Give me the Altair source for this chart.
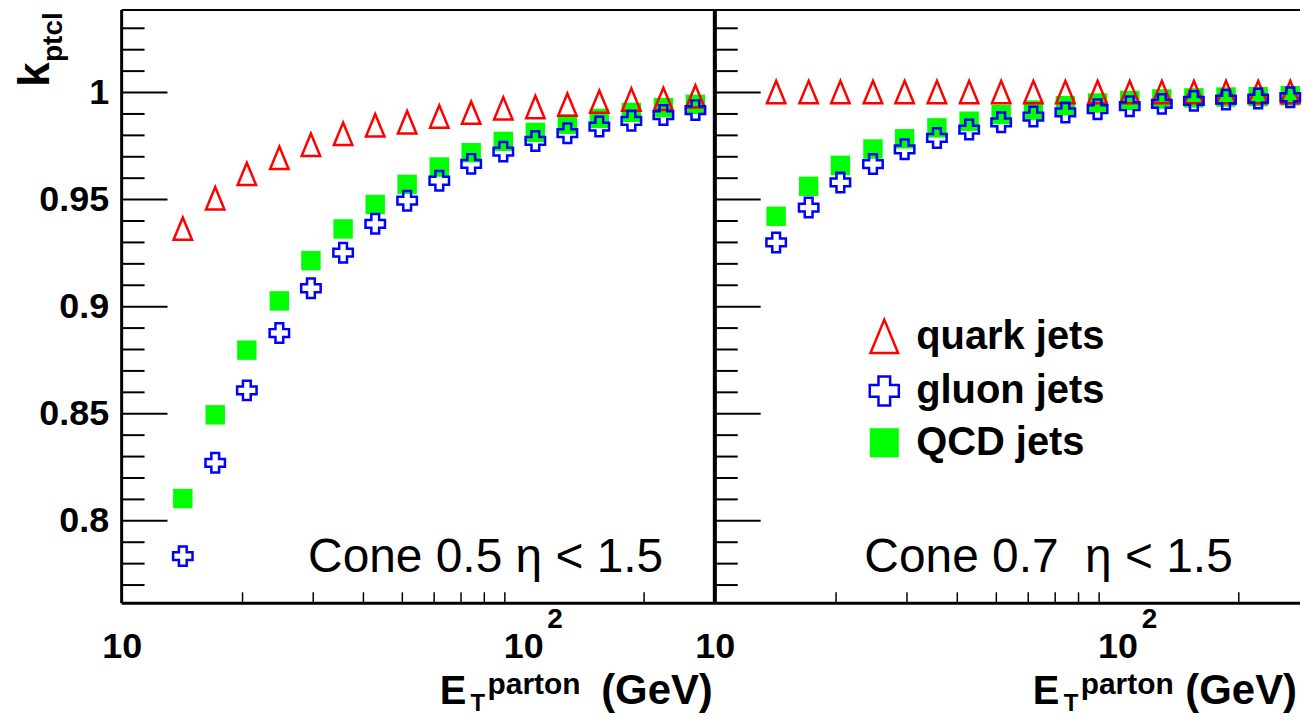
import altair as alt
import pandas as pd

# ---------------- data ----------------
x_et = [14.2, 17.1, 20.5, 24.7, 29.6, 35.6, 42.8, 51.4, 61.8, 74.2,
        89.2, 107.2, 128.8, 154.7, 185.9, 223.4, 268.4]

series_names = ["quark jets", "gluon jets", "QCD jets"]

quark_05 = [0.9362, 0.9504, 0.9618, 0.9693, 0.9754, 0.9805, 0.9845, 0.9859, 0.9886,
            0.9904, 0.9924, 0.9930, 0.9941, 0.9955, 0.9965, 0.9968, 0.9980]
gluon_05 = [0.7835, 0.8271, 0.8609, 0.8877, 0.9086, 0.9252, 0.9387, 0.9495, 0.9588,
            0.9667, 0.9724, 0.9774, 0.9810, 0.9841, 0.9868, 0.9895, 0.9918]
qcd_05 = [0.8104, 0.8495, 0.8797, 0.9027, 0.9215, 0.9363, 0.9477, 0.9571, 0.9652,
          0.9719, 0.9772, 0.9814, 0.9852, 0.9879, 0.9907, 0.9930, 0.9945]

quark_07 = [1.0000, 1.0000, 1.0000, 1.0000, 1.0000, 1.0000, 1.0000, 1.0000, 1.0000,
            1.0000, 1.0000, 1.0000, 1.0000, 1.0000, 1.0000, 1.0000, 1.0000]
gluon_07 = [0.9300, 0.9463, 0.9580, 0.9666, 0.9735, 0.9788, 0.9827, 0.9861, 0.9888,
            0.9907, 0.9922, 0.9936, 0.9947, 0.9961, 0.9967, 0.9972, 0.9978]
qcd_07 = [0.9422, 0.9562, 0.9660, 0.9736, 0.9784, 0.9835, 0.9866, 0.9897, 0.9918,
          0.9939, 0.9951, 0.9963, 0.9970, 0.9975, 0.9979, 0.9981, 0.9985]

y_major = [0.8, 0.85, 0.9, 0.95, 1.0]
y_minor = [0.77, 0.78, 0.79, 0.81, 0.82, 0.83, 0.84, 0.86, 0.87, 0.88, 0.89,
           0.91, 0.92, 0.93, 0.94, 0.96, 0.97, 0.98, 0.99, 1.01, 1.02, 1.03]
x_label_values = [10, 100]
x_minor = [20, 30, 40, 50, 60, 70, 80, 90, 200]
x_sup_values = [100]
x_sup_text = ["2"]

cone_labels = ["Cone 0.5 \u03b7 < 1.5", "Cone 0.7 \u00a0\u03b7 < 1.5"]
y_title = ["k", "ptcl"]
x_title = ["E", "T", "parton", "(GeV)"]

# ---------------- styling ----------------
FONT = "Liberation Sans"
H = 595
W_L = 595
W_R = 587
Y_DOM = [0.7615, 1.0385]
TRI = "M0,-1.2L-0.95,1.1L0.95,1.1Z"

one = pd.DataFrame({"a": [0]})


def points_df(quark, gluon, qcd):
    rows = []
    for name, vals in [("QCD jets", qcd), ("quark jets", quark), ("gluon jets", gluon)]:
        for xv, yv in zip(x_et, vals):
            rows.append({"et": xv, "k": yv, "series": name})
    return pd.DataFrame(rows)


legend = alt.Legend(orient="none", legendX=745, legendY=308, title=None,
                    labelFont=FONT, labelFontSize=40, labelFontWeight="bold",
                    labelColor="black", labelLimit=0, symbolSize=850,
                    symbolStrokeWidth=2.5, symbolOpacity=1, labelOffset=12,
                    rowPadding=12, padding=0)


def txt(text, x, y, size, weight="bold", angle=0, align="left"):
    return alt.Chart(one).mark_text(
        text=text, font=FONT, fontSize=size, fontWeight=weight, angle=angle,
        align=align, baseline="alphabetic", color="black"
    ).encode(x=alt.value(x), y=alt.value(y))


def bar(x1, x2, y1, y2):
    # frame line drawn as a filled thin rectangle
    return alt.Chart(one).mark_rect(color="black", strokeWidth=0).encode(
        x=alt.value(x1), x2=alt.value(x2), y=alt.value(y1), y2=alt.value(y2))


def panel(df, width, xmax, cone, show_y, ge_x, right_frame):
    xs = alt.Scale(type="log", domain=[10, xmax], nice=False)
    ys = alt.Scale(domain=Y_DOM, nice=False, zero=False)
    xaxis = alt.Axis(values=x_label_values, labelExpr="'10'", ticks=False, domain=False,
                     grid=False, labelFont=FONT, labelFontWeight="bold", labelFontSize=36,
                     labelPadding=26, labelFlush=False, labelOverlap=False, title=None,
                     labelColor="black")
    if show_y:
        yaxis = alt.Axis(values=y_major, format="~g", ticks=False, domain=False, grid=False,
                         labelFont=FONT, labelFontWeight="bold", labelFontSize=36,
                         labelPadding=13, labelColor="black", title=None)
    else:
        yaxis = None

    pts = alt.Chart(df).mark_point(opacity=1, strokeWidth=2.5, size=380).encode(
        x=alt.X("et:Q", scale=xs, axis=xaxis),
        y=alt.Y("k:Q", scale=ys, axis=yaxis),
        shape=alt.Shape("series:N", scale=alt.Scale(domain=series_names,
                                                     range=[TRI, "cross", "square"]),
                        legend=legend),
        fill=alt.Fill("series:N", scale=alt.Scale(domain=series_names,
                                                   range=["transparent", "transparent", "#00ff00"]),
                      legend=legend),
        stroke=alt.Stroke("series:N", scale=alt.Scale(domain=series_names,
                                                       range=["#ff0000", "#0000ff", "transparent"]),
                          legend=legend),
    )

    ymaj = alt.Chart(pd.DataFrame({"k": y_major})).mark_rule(color="black", strokeWidth=2).encode(
        y=alt.Y("k:Q", scale=ys, axis=yaxis), x=alt.value(0), x2=alt.value(46))
    ymin = alt.Chart(pd.DataFrame({"k": y_minor})).mark_rule(color="black", strokeWidth=2).encode(
        y=alt.Y("k:Q", scale=ys, axis=yaxis), x=alt.value(0), x2=alt.value(23))
    xmin = alt.Chart(pd.DataFrame({"et": x_minor})).mark_rule(color="black", strokeWidth=1.5).encode(
        x=alt.X("et:Q", scale=xs, axis=xaxis), y=alt.value(H), y2=alt.value(H - 11))
    sup = alt.Chart(pd.DataFrame({"et": x_sup_values, "t": x_sup_text})).mark_text(
        font=FONT, fontSize=28, fontWeight="bold", align="center", baseline="alphabetic",
        dx=32, color="black").encode(
        x=alt.X("et:Q", scale=xs, axis=xaxis), y=alt.value(620), text="t:N")

    layers = [pts, ymaj, ymin, xmin, sup,
              bar(0, width, -1, 1), bar(0, width, H - 1.5, H + 1.5), bar(-1.5, 1.5, 0, H)]
    if right_frame:
        layers.append(bar(width - 2, width + 2, 0, H))

    layers += [
        txt(cone[0], cone[1], 564, 48, weight="normal"),
        txt(x_title[0], 319, 696, 40),
        txt(x_title[1], 350, 703, 24),
        txt(x_title[2], 367, 686, 30),
        txt(x_title[3], ge_x, 696, 42),
    ]
    if show_y:
        layers += [
            txt(y_title[0], -73, 77, 44, angle=270),
            txt(y_title[1], -60, 52, 28, angle=270),
        ]
    return alt.layer(*layers).properties(width=width, height=H)


left = panel(points_df(quark_05, gluon_05, qcd_05), W_L, 300, (cone_labels[0], 187), True, 481, True)
right = panel(points_df(quark_07, gluon_07, qcd_07), W_R, 283.8, (cone_labels[1], 150), False, 472, False)

chart = alt.hconcat(left, right, spacing=0, bounds="flush").resolve_scale(
    x="independent", y="independent"
).configure_view(stroke=None).properties(
    padding={"left": 6, "top": 0, "right": 0, "bottom": 0}
)

chart.save("out.html", embed_options={"renderer": "svg", "actions": False})
